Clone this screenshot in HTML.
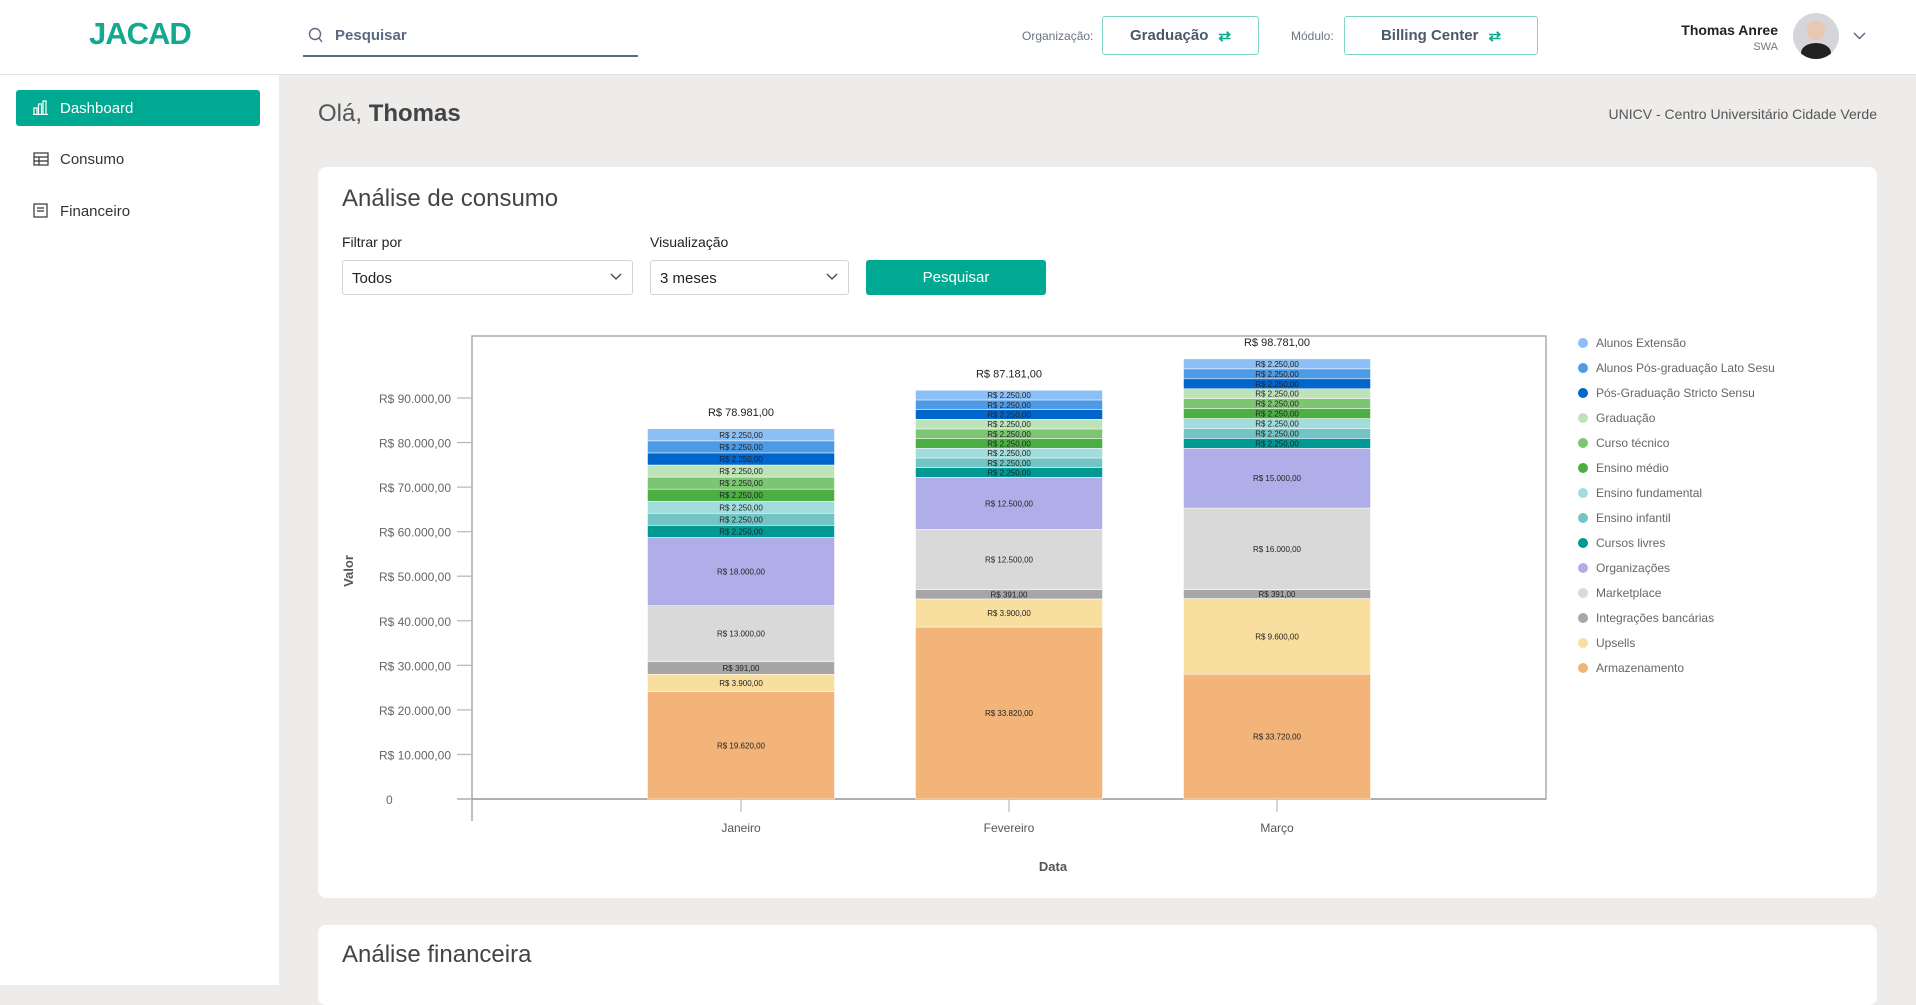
<!DOCTYPE html>
<html><head><meta charset="utf-8">
<style>
*{box-sizing:border-box;margin:0;padding:0}
body{width:1916px;height:985px;overflow:hidden;background:#edecea;font-family:"Liberation Sans",sans-serif;position:relative;color:#333}
.abs{position:absolute}
#header{left:0;top:0;width:1916px;height:75px;background:#fff;border-bottom:1px solid #e2e2e2}
#sidebar{left:0;top:75px;width:279px;height:910px;background:#fff}
.navitem{position:absolute;left:16px;width:244px;height:36px;border-radius:3px;font-size:15px;color:#333;display:flex;align-items:center;padding-left:44px}
.sel{position:absolute;top:260px;height:35px;border:1px solid #cfd4da;border-radius:3px;background:#fff;font-size:15px;padding:9px 9px;color:#222}
.sel svg{position:absolute;right:10px;top:12px}
.swap{position:absolute;top:16px;height:39px;border:1.5px solid #7fd6c6;border-radius:3px;font-size:15px;font-weight:bold;color:#4a5a6a;display:flex;align-items:center;justify-content:center;gap:10px}
</style></head><body>
<div id="header" class="abs">
  <div class="abs" style="left:89px;top:16px;font-size:31px;font-weight:bold;color:#14a98e;letter-spacing:-1px">JACAD</div>
  <div class="abs" style="left:303px;top:20px;width:335px;height:37px;border-bottom:2px solid #5a6a80">
    <svg class="abs" style="left:5px;top:7px" width="16" height="17" viewBox="0 0 16 17"><circle cx="7" cy="7" r="5.5" fill="none" stroke="#5a6a80" stroke-width="1.4"/><line x1="11" y1="11" x2="14" y2="15" stroke="#5a6a80" stroke-width="1.4"/></svg>
    <span class="abs" style="left:32px;top:7px;font-size:15px;font-weight:bold;color:#5a6a80">Pesquisar</span>
  </div>
  <div class="abs" style="left:1022px;top:29px;font-size:12px;color:#6a7480">Organização:</div>
  <div class="swap" style="left:1102px;width:157px">Graduação <span style="color:#14a98e">⇄</span></div>
  <div class="abs" style="left:1291px;top:29px;font-size:12px;color:#6a7480">Módulo:</div>
  <div class="swap" style="left:1344px;width:194px">Billing Center <span style="color:#14a98e">⇄</span></div>
  <div class="abs" style="left:1640px;top:22px;width:138px;text-align:right;font-size:14px;font-weight:bold;color:#222">Thomas Anree</div>
  <div class="abs" style="left:1700px;top:41px;width:78px;text-align:right;font-size:11px;color:#777">SWA</div>
  <div class="abs" style="left:1793px;top:13px;width:46px;height:46px;border-radius:50%;background:radial-gradient(circle at 50% 38%,#e8c8b0 0 9px,#d6d6da 10px);overflow:hidden"><div style="position:absolute;left:8px;top:30px;width:30px;height:20px;border-radius:50% 50% 0 0;background:#222"></div></div>
  <svg class="abs" style="left:1853px;top:32px" width="13" height="8" viewBox="0 0 13 8"><polyline points="1,1 6.5,6.5 12,1" fill="none" stroke="#5a6a80" stroke-width="1.5"/></svg>
</div>
<div id="sidebar" class="abs">
  <div class="navitem" style="top:15px;background:#00a992;color:#fff"><svg class="abs" style="left:17px;top:10px" width="15" height="15" viewBox="0 0 15 15"><path d="M1 14V8h3v6M5.5 14V4h3v10M10 14V1h3v13M0 14.5h15" fill="none" stroke="#fff" stroke-width="1.2"/></svg>Dashboard</div>
  <div class="navitem" style="top:66px"><svg class="abs" style="left:17px;top:11px" width="16" height="14" viewBox="0 0 16 14"><rect x="1" y="1" width="14" height="12" fill="none" stroke="#333" stroke-width="1.2"/><path d="M1 5h14M1 9h14M6 5v8" stroke="#333" stroke-width="1.2"/></svg>Consumo</div>
  <div class="navitem" style="top:118px"><svg class="abs" style="left:17px;top:10px" width="15" height="16" viewBox="0 0 15 16"><rect x="1" y="1" width="13" height="13" fill="none" stroke="#333" stroke-width="1.2"/><path d="M4 5h7M4 8h7" stroke="#333" stroke-width="1.2"/></svg>Financeiro</div>
</div>
<div class="abs" style="left:318px;top:100px;font-size:24px;color:#555">Olá, <b style="color:#444">Thomas</b></div>
<div class="abs" style="left:1500px;top:106px;width:377px;text-align:right;font-size:14px;color:#555">UNICV - Centro Universitário Cidade Verde</div>

<div class="abs" style="left:318px;top:167px;width:1559px;height:731px;background:#fff;border-radius:8px"></div>
<div class="abs" style="left:342px;top:185px;font-size:24px;color:#444">Análise de consumo</div>
<div class="abs" style="left:342px;top:234px;font-size:14px;color:#222">Filtrar por</div>
<div class="abs" style="left:650px;top:234px;font-size:14px;color:#222">Visualização</div>
<div class="sel" style="left:342px;width:291px">Todos<svg width="12" height="8" viewBox="0 0 12 8"><polyline points="1,1 6,6 11,1" fill="none" stroke="#444" stroke-width="1.3"/></svg></div>
<div class="sel" style="left:650px;width:199px">3 meses<svg width="12" height="8" viewBox="0 0 12 8"><polyline points="1,1 6,6 11,1" fill="none" stroke="#444" stroke-width="1.3"/></svg></div>
<div class="abs" style="left:866px;top:260px;width:180px;height:35px;background:#00a992;border-radius:3px;color:#fff;font-size:15px;display:flex;align-items:center;justify-content:center">Pesquisar</div>

<div class="abs" style="left:318px;top:925px;width:1559px;height:80px;background:#fff;border-radius:8px"></div>
<div class="abs" style="left:342px;top:941px;font-size:24px;color:#444">Análise financeira</div>

<svg id="chart" class="abs" style="left:0;top:0" width="1916" height="985"></svg>
<script>
const categories=["Janeiro","Fevereiro","Março"];
const seriesNames=["Armazenamento","Upsells","Integrações bancárias","Marketplace","Organizações","Cursos livres","Ensino infantil","Ensino fundamental","Ensino médio","Curso técnico","Graduação","Pós-Graduação Stricto Sensu","Alunos Pós-graduação Lato Sesu","Alunos Extensão"];
const seriesColors=["#f2b479","#f8df9f","#a6a6a6","#d9d9d9","#b0aee8","#009994","#73c4c4","#a3dcdc","#4caf43","#7dc671","#bfe3b8","#0066cc","#4d9be6","#8bbff5"];
const janValues=[24100,3900,2800,12600,15300,2710,2710,2710,2710,2710,2710,2710,2710,2710];
const febValues=[38600,6300,2100,13500,11700,2170,2170,2170,2170,2170,2170,2170,2170,2170];
const marValues=[28000,17000,2000,18300,13400,2230,2230,2230,2230,2230,2230,2230,2230,2230];
const janLabels=["R$ 19.620,00","R$ 3.900,00","R$ 391,00","R$ 13.000,00","R$ 18.000,00","R$ 2.250,00","R$ 2.250,00","R$ 2.250,00","R$ 2.250,00","R$ 2.250,00","R$ 2.250,00","R$ 2.250,00","R$ 2.250,00","R$ 2.250,00"];
const febLabels=["R$ 33.820,00","R$ 3.900,00","R$ 391,00","R$ 12.500,00","R$ 12.500,00","R$ 2.250,00","R$ 2.250,00","R$ 2.250,00","R$ 2.250,00","R$ 2.250,00","R$ 2.250,00","R$ 2.250,00","R$ 2.250,00","R$ 2.250,00"];
const marLabels=["R$ 33.720,00","R$ 9.600,00","R$ 391,00","R$ 16.000,00","R$ 15.000,00","R$ 2.250,00","R$ 2.250,00","R$ 2.250,00","R$ 2.250,00","R$ 2.250,00","R$ 2.250,00","R$ 2.250,00","R$ 2.250,00","R$ 2.250,00"];
const totalLabels=["R$ 78.981,00","R$ 87.181,00","R$ 98.781,00"];
const yTicks=[0,10000,20000,30000,40000,50000,60000,70000,80000,90000];
const yTickLabels=["0","R$ 10.000,00","R$ 20.000,00","R$ 30.000,00","R$ 40.000,00","R$ 50.000,00","R$ 60.000,00","R$ 70.000,00","R$ 80.000,00","R$ 90.000,00"];
const legendOrder=[13,12,11,10,9,8,7,6,5,4,3,2,1,0];

const NS="http://www.w3.org/2000/svg";
const svg=document.getElementById('chart');
const plot={left:472,right:1546,top:336,zero:799};
const y=v=>plot.zero-v*(plot.zero-398)/90000;
const x=i=>741+i*268;
const barW=187;
function mk(tag,attrs,text){const e=document.createElementNS(NS,tag);for(const k in attrs)e.setAttribute(k,attrs[k]);if(text!==undefined)e.textContent=text;svg.appendChild(e);return e;}
let e;
e=mk('rect',{x:plot.left,y:plot.top,width:plot.right-plot.left,height:plot.zero-plot.top,fill:'none',stroke:'#9e9e9e','stroke-width':1.3});


e=mk('line',{x1:472,y1:799,x2:472,y2:821,stroke:'#9e9e9e','stroke-width':1.3});


e=mk('line',{x1:457,y1:799,x2:1546,y2:799,stroke:'#9e9e9e','stroke-width':1.5});


yTicks.forEach((t,i)=>{
  e=mk('line',{x1:457,y1:y(t),x2:472,y2:y(t),stroke:'#bbb','stroke-width':1.3});
  
  
  e=mk('text',{x:i===0?386:451,y:y(t)+5,'text-anchor':i===0?'start':'end','font-size':12,fill:'#666','font-family':'Liberation Sans'},yTickLabels[i]);
  
  
});
const allVals=[janValues,febValues,marValues];
const allLabels=[janLabels,febLabels,marLabels];
categories.forEach((c,i)=>{
  let acc=0;
  allVals[i].forEach((v,s)=>{
    const y0=y(acc),y1=y(acc+v);
    e=mk('rect',{x:x(i)-barW/2,y:y1,width:barW,height:y0-y1,fill:seriesColors[s],stroke:'#fff','stroke-width':0.5});
    
    
    e=mk('text',{x:x(i),y:(y0+y1)/2+3,'text-anchor':'middle','font-size':8,fill:'#222','font-family':'Liberation Sans'},allLabels[i][s]);
    
    
    acc+=v;
  });
  e=mk('text',{x:x(i),y:y(acc)-13,'text-anchor':'middle','font-size':11,fill:'#222','font-family':'Liberation Sans'},totalLabels[i]);
  
  
  e=mk('line',{x1:x(i),y1:799,x2:x(i),y2:812,stroke:'#bbb','stroke-width':1.2});
  
  
  e=mk('text',{x:x(i),y:832,'text-anchor':'middle','font-size':12,fill:'#555','font-family':'Liberation Sans'},c);
  
  
});
e=mk('text',{x:1053,y:871,'text-anchor':'middle','font-size':13,'font-weight':'bold',fill:'#555','font-family':'Liberation Sans'},'Data');


e=mk('text',{x:353,y:571,'text-anchor':'middle','font-size':13,'font-weight':'bold',fill:'#555','font-family':'Liberation Sans',transform:'rotate(-90 353 571)'},'Valor');


legendOrder.forEach((s,k)=>{
  const ly=343+k*25;
  e=mk('circle',{cx:1583,cy:ly,r:5,fill:seriesColors[s]});
  
  
  e=mk('text',{x:1596,y:ly+4,'font-size':12,fill:'#666','font-family':'Liberation Sans'},seriesNames[s]);
  
  
});
</script>
</body></html>
